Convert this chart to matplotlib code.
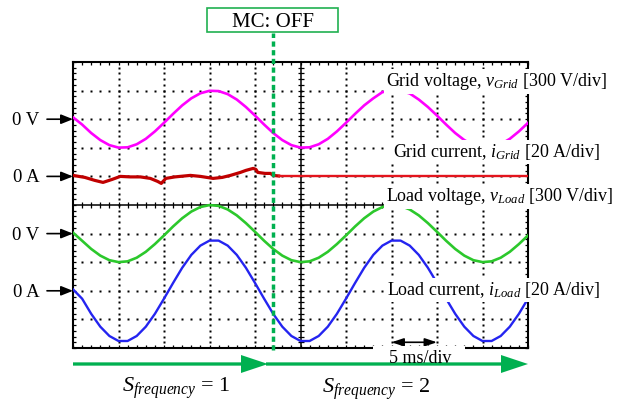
import matplotlib
matplotlib.use('Agg')
import matplotlib.pyplot as plt
from matplotlib.patches import Rectangle, FancyArrow
import numpy as np

plt.rcParams['font.family'] = 'Liberation Serif'
plt.rcParams['mathtext.fontset'] = 'custom'
plt.rcParams['mathtext.rm'] = 'Liberation Serif'
plt.rcParams['mathtext.it'] = 'Liberation Serif:italic'

# scope settings
volt_per_div = 300
amp_per_div = 20
t_mc_off = 22  # ms, MC switched off

# channel zero levels (divisions from bottom of screen)
zero_vgrid, zero_igrid, zero_vload, zero_iload = 8, 6, 4, 2

t_ms = np.arange(0, 51)
v_grid = [20, -56, -145, -219, -272, -298, -295, -263, -206, -128,
          -38, 56, 145, 219, 272, 298, 295, 263, 206, 128,
          38, -56, -145, -219, -272, -298, -295, -263, -206, -128,
          -38, 56, 145, 219, 284, 298, 298, 270, 206, 128,
          38, -56, -145, -219, -272, -298, -295, -263, -206, -128,
          -38]
v_load = [10, -75, -161, -231, -279, -299, -291, -253, -191, -110,
          -19, 75, 161, 231, 279, 299, 291, 253, 191, 110,
          19, -75, -161, -231, -279, -299, -291, -253, -191, -110,
          -19, 75, 161, 231, 279, 299, 291, 253, 191, 110,
          19, -75, -161, -231, -279, -299, -291, -253, -191, -110,
          -19]
i_load = [1, -5.5, -16.1, -25.1, -31.6, -35.1, -35.1, -31.6, -25.1, -16.1,
          -5.5, 5.5, 16.1, 25.1, 31.6, 35.1, 35.1, 31.6, 25.1, 16.1,
          5.5, -5.5, -16.1, -25.1, -31.6, -35.1, -35.1, -31.6, -25.1, -16.1,
          -5.5, 5.5, 16.1, 25.1, 31.6, 35.1, 35.1, 31.6, 25.1, 16.1,
          5.5, -5.5, -16.1, -25.1, -31.6, -35.1, -35.1, -31.6, -25.1, -16.1,
          -5.5]
t_igrid = [0, 1.3, 2.4, 3.3, 4.3, 5.2, 6.3, 7.4, 8.5, 9.3, 9.7, 10.2, 11.2,
           12.9, 14.0, 15.4, 16.4, 17.3, 18.4, 19.0, 19.8, 20.1, 20.3, 21.1,
           21.7, 22.0, 22.6, 50]
i_grid = [0.7, -0.7, -2.8, -4.2, -2.1, 0, -0.35, -0.35, -1.4, -3.5, -4.9, -1.4,
          -0.35, 0.7, 0, -1.4, -0.7, 0.7, 2.8, 4.2, 5.6, 4.9, 2.8, 2.1,
          2.1, 0.7, 0.3, 0.3]

fig = plt.figure(figsize=(6.19, 4.03), dpi=100)
ax = fig.add_axes([73/619, 55/403, 455/619, 286/403])
ax.set_xlim(0, 50)
ax.set_ylim(0, 10)
ax.set_xticks(np.arange(0, 51, 1))
ax.set_yticks(np.arange(0, 10.01, 0.2))
ax.tick_params(direction='in', length=2.5, width=0.9, top=True, right=True,
               labelbottom=False, labelleft=False)
for s in ax.spines.values():
    s.set_linewidth(1.5)

# dotted graticule
yy = np.arange(0.2, 10, 0.2)
xx = np.arange(1, 50, 1)
for xv in [5, 10, 15, 20, 30, 35, 40, 45]:
    ax.plot(np.full_like(yy, xv), yy, ls='none', marker='s', ms=1.5, mec='none', color='k')
for yv in [1, 2, 3, 4, 6, 7, 8, 9]:
    ax.plot(xx, np.full(len(xx), yv), ls='none', marker='s', ms=1.5, mec='none', color='k')
ax.axvline(25, color='k', lw=1.1)
ax.axhline(5, color='k', lw=1.1)
ax.plot(np.full_like(yy, 25), yy, ls='none', marker='_', ms=5, mew=0.9, color='k')
ax.plot(xx, np.full(len(xx), 5), ls='none', marker='|', ms=5, mew=0.9, color='k')

# traces
ax.plot(t_ms, zero_vgrid + np.array(v_grid) / volt_per_div, color='#ff00ff', lw=1.9, zorder=4)
ax.plot(t_ms, zero_vload + np.array(v_load) / volt_per_div, color='#2cc82c', lw=1.9, zorder=4)
ax.plot(t_ms, zero_iload + np.array(i_load) / amp_per_div, color='#2424f0', lw=1.7, zorder=4)
t_ig = np.array(t_igrid)
ig = zero_igrid + np.array(i_grid) / amp_per_div
before = t_ig <= 22.6
ax.plot(t_ig[before], ig[before], color='#c00000', lw=2.3, zorder=4)
ax.plot(t_ig[t_ig >= 22.6], ig[t_ig >= 22.6], color='#e3141c', lw=1.7, zorder=4)

# MC off marker
ax.plot([t_mc_off, t_mc_off], [-0.07, 11.0], color='#00b050', lw=2.5,
        ls=(0, (1.5, 1.0)), clip_on=False, zorder=5)

# zero level arrows
for lvl, lab in [(zero_vgrid, '0 V'), (zero_igrid, '0 A'),
                 (zero_vload, '0 V'), (zero_iload, '0 A')]:
    ax.annotate('', xy=(0, lvl), xytext=(-26, 0), textcoords='offset pixels',
                arrowprops=dict(arrowstyle='-|>,head_length=0.55,head_width=0.22',
                                mutation_scale=13, color='k', lw=1.2,
                                shrinkA=0, shrinkB=0),
                annotation_clip=False)
    ax.annotate(lab, xy=(0, lvl), xytext=(-47, -6), textcoords='offset pixels',
                ha='center', va='baseline', fontsize=13.5, annotation_clip=False)

# 5 ms/div scale marker
ax.annotate('', xy=(40, 0.2), xytext=(35, 0.2),
            arrowprops=dict(arrowstyle='<|-|>,head_length=0.6,head_width=0.2',
                            mutation_scale=12, color='k', lw=1.2,
                            shrinkA=0, shrinkB=0))

# overlay in pixel coordinates for the annotations
ov = fig.add_axes([0, 0, 1, 1])
ov.set_xlim(0, 619)
ov.set_ylim(403, 0)
ov.axis('off')
ov.patch.set_alpha(0)

box = dict(fc='white', ec='none', pad=1.5)
ov.text(386, 86, r'Grid voltage, $v_{Grid}$ [300 V/div]', fontsize=13, va='baseline', bbox=box)
ov.text(393, 157, r'Grid current, $i_{Grid}$ [20 A/div]', fontsize=13, va='baseline', bbox=box)
ov.text(386, 201, r'Load voltage, $v_{Load}$ [300 V/div]', fontsize=13, va='baseline', bbox=box)
ov.text(387, 295, r'Load current, $i_{Load}$ [20 A/div]', fontsize=13, va='baseline', bbox=box)

ov.add_patch(Rectangle((373, 345.5), 92, 16, fc='white', ec='none'))
ov.text(420, 363, '5 ms/div', fontsize=13, ha='center', va='baseline')

ov.add_patch(Rectangle((207, 8), 131, 24, fc='white', ec='#20b050', lw=1.2))
ov.text(273, 27, 'MC: OFF', fontsize=15, ha='center', va='baseline')

green = '#00b050'
ov.add_patch(FancyArrow(73, 364, 195, 0, width=3.3, head_width=18, head_length=27,
                        length_includes_head=True, color=green, lw=0))
ov.add_patch(FancyArrow(266, 364, 262, 0, width=3.3, head_width=18, head_length=27,
                        length_includes_head=True, color=green, lw=0))

ov.text(122, 392, r'$S_{frequency}$ = 1', fontsize=16, va='baseline')
ov.text(322, 393, r'$S_{frequency}$ = 2', fontsize=16, va='baseline')

fig.savefig('out.png', dpi=100)
